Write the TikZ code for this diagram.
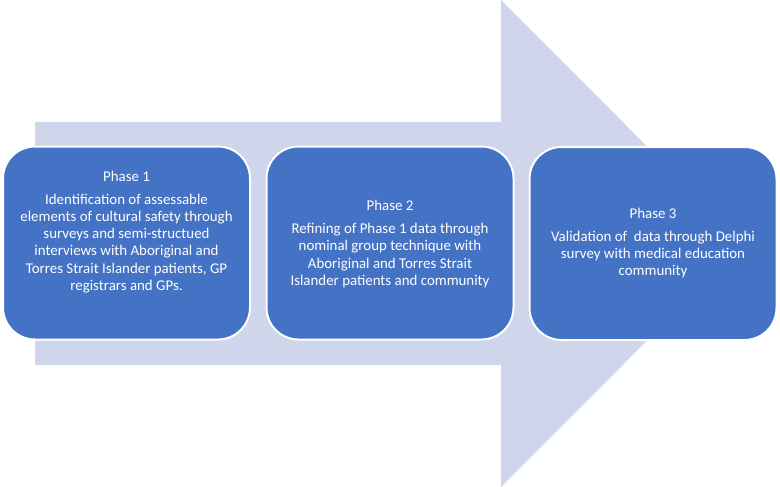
\documentclass[tikz,border=0pt]{standalone}
\usepackage{fontspec}
\setmainfont{Carlito}
\definecolor{arrowc}{HTML}{CFD5EA}
\definecolor{boxc}{HTML}{4472C4}
\begin{document}
\begin{tikzpicture}[x=1pt,y=-1pt,
  phasebox/.style={draw=white,line width=2pt,fill=boxc,rounded corners=32pt,
    minimum width=247pt,minimum height=193pt,inner sep=0pt},
  phasetext/.style={text=white,align=center,inner sep=0pt,
    font=\fontsize{14.9}{17.3}\selectfont}]
\useasboundingbox (0,0) rectangle (780,487);
\fill[arrowc] (35,122) -- (501,122) -- (501,0) -- (744,243.5) -- (501,487) -- (501,365) -- (35,365) -- cycle;
\node[phasebox] (b1) at (126.5,243) {};
\node[phasebox] (b2) at (390,243) {};
\node[phasebox] (b3) at (653,243.5) {};
\node[phasetext] (t1) at (126.5,232) {Phase 1\\[5.5pt]Identification of assessable\\elements of cultural safety through\\surveys and semi-structued\\interviews with Aboriginal and\\Torres Strait Islander patients, GP\\registrars and GPs.};
\node[phasetext] (t2) at (390,244) {Phase 2\\[5.5pt]Refining of Phase 1 data through\\nominal group technique with\\Aboriginal and Torres Strait\\Islander patients and community};
\node[phasetext] (t3) at (653,243) {Phase 3\\[5.5pt]Validation of\ \ data through Delphi\\survey with medical education\\community};
\end{tikzpicture}
\end{document}
